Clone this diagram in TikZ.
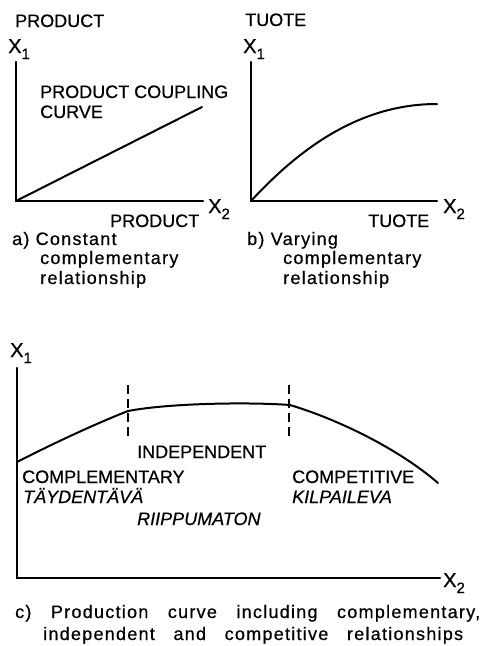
\documentclass[tikz,border=0pt]{standalone}
\usepackage{fontspec}
\setmainfont{Liberation Sans}[FakeBold=0.6,ItalicFeatures={FakeBold=0.6}]
\newfontfamily\capfont{Liberation Sans}[LetterSpace=7,FakeBold=0.6]
\newcommand{\axlab}[1]{{\fontsize{20}{20}\selectfont X\raisebox{-6pt}{\fontsize{15}{15}\selectfont #1}}}
\begin{document}
\begin{tikzpicture}[x=1pt,y=-1pt,
  lab/.style={anchor=base west,inner sep=0pt,font=\fontsize{18}{18}\selectfont},
  ilab/.style={lab,font=\fontsize{18}{18}\selectfont\itshape},
  captext/.style={anchor=base west,inner sep=0pt,font=\fontsize{18}{18}\selectfont\capfont},
  axis/.style={line width=2.4pt,line cap=round},
  crv/.style={line width=2pt,line cap=round},
  dsh/.style={line width=1.6pt,dash pattern=on 9pt off 5pt}]
\path[use as bounding box] (0,0) rectangle (480,646);
% ---------- panel a ----------
\node[lab] (pa) at (15,27) {PRODUCT};
\node[lab] (x1a) at (8,53) {\axlab{1}};
\coordinate (ta) at (16,62);
\coordinate (oa) at (16,201);
\coordinate (ea) at (203,201);
\draw[axis] (ta) -- (oa) -- (ea);
\node[lab] (x2a) at (208,213) {\axlab{2}};
\node[lab] (pba) at (110,227) {PRODUCT};
\coordinate (la) at (202,107);
\draw[crv] (oa) -- (la);
\node[lab] (pc1) at (40,98) {PRODUCT COUPLING};
\node[lab] (pc2) at (40,118) {CURVE};
\node[captext] (ca1) at (12,245) {a) Constant};
\node[captext] (ca2) at (40,264) {complementary};
\node[captext] (ca3) at (40,284) {relationship};
% ---------- panel b ----------
\node[lab] (tb) at (245,26) {TUOTE};
\node[lab] (x1b) at (243,53) {\axlab{1}};
\coordinate (tbb) at (251,62);
\coordinate (ob) at (251,201);
\coordinate (eb) at (437,201);
\draw[axis] (tbb) -- (ob) -- (eb);
\node[lab] (x2b) at (443,213) {\axlab{2}};
\node[lab] (tbb2) at (368,227) {TUOTE};
\coordinate (lb) at (437,104);
\draw[crv] (ob) .. controls (300,148) and (360,104) .. (lb);
\node[captext] (cb1) at (247,245) {b) Varying};
\node[captext] (cb2) at (283,264) {complementary};
\node[captext] (cb3) at (283,284) {relationship};
% ---------- panel c ----------
\node[lab] (x1c) at (10,357) {\axlab{1}};
\coordinate (tc) at (17,368);
\coordinate (oc) at (17,578);
\coordinate (ec) at (440,578);
\draw[axis] (tc) -- (oc) -- (ec);
\node[lab] (x2c) at (443,587) {\axlab{2}};
\coordinate (c0) at (17,462);
\coordinate (c1) at (128,411);
\coordinate (c2) at (290,405);
\coordinate (c3) at (438,483);
\draw[crv] (c0) .. controls (60,440) and (100,422) .. (c1)
  .. controls (170,403) and (250,402) .. (c2)
  .. controls (340,420) and (400,450) .. (c3);
\coordinate (d1t) at (128,385);
\coordinate (d1b) at (128,438);
\coordinate (d2t) at (289,385);
\coordinate (d2b) at (289,438);
\draw[dsh] (d1t) -- (d1b);
\draw[dsh] (d2t) -- (d2b);
\node[lab] (ind) at (137,458) {INDEPENDENT};
\node[lab] (cmp) at (22,483) {COMPLEMENTARY};
\node[ilab] (tay) at (23,503) {TÄYDENTÄVÄ};
\node[ilab] (rii) at (137,525) {RIIPPUMATON};
\node[lab] (cpt) at (292,483) {COMPETITIVE};
\node[ilab] (kil) at (292,503) {KILPAILEVA};
\node[captext] (cc1) at (15,618) {\makebox[465pt][s]{c) Production curve including complementary,}};
\node[captext] (cc2) at (43,640) {\makebox[420pt][s]{independent and competitive relationships}};
\end{tikzpicture}
\end{document}
